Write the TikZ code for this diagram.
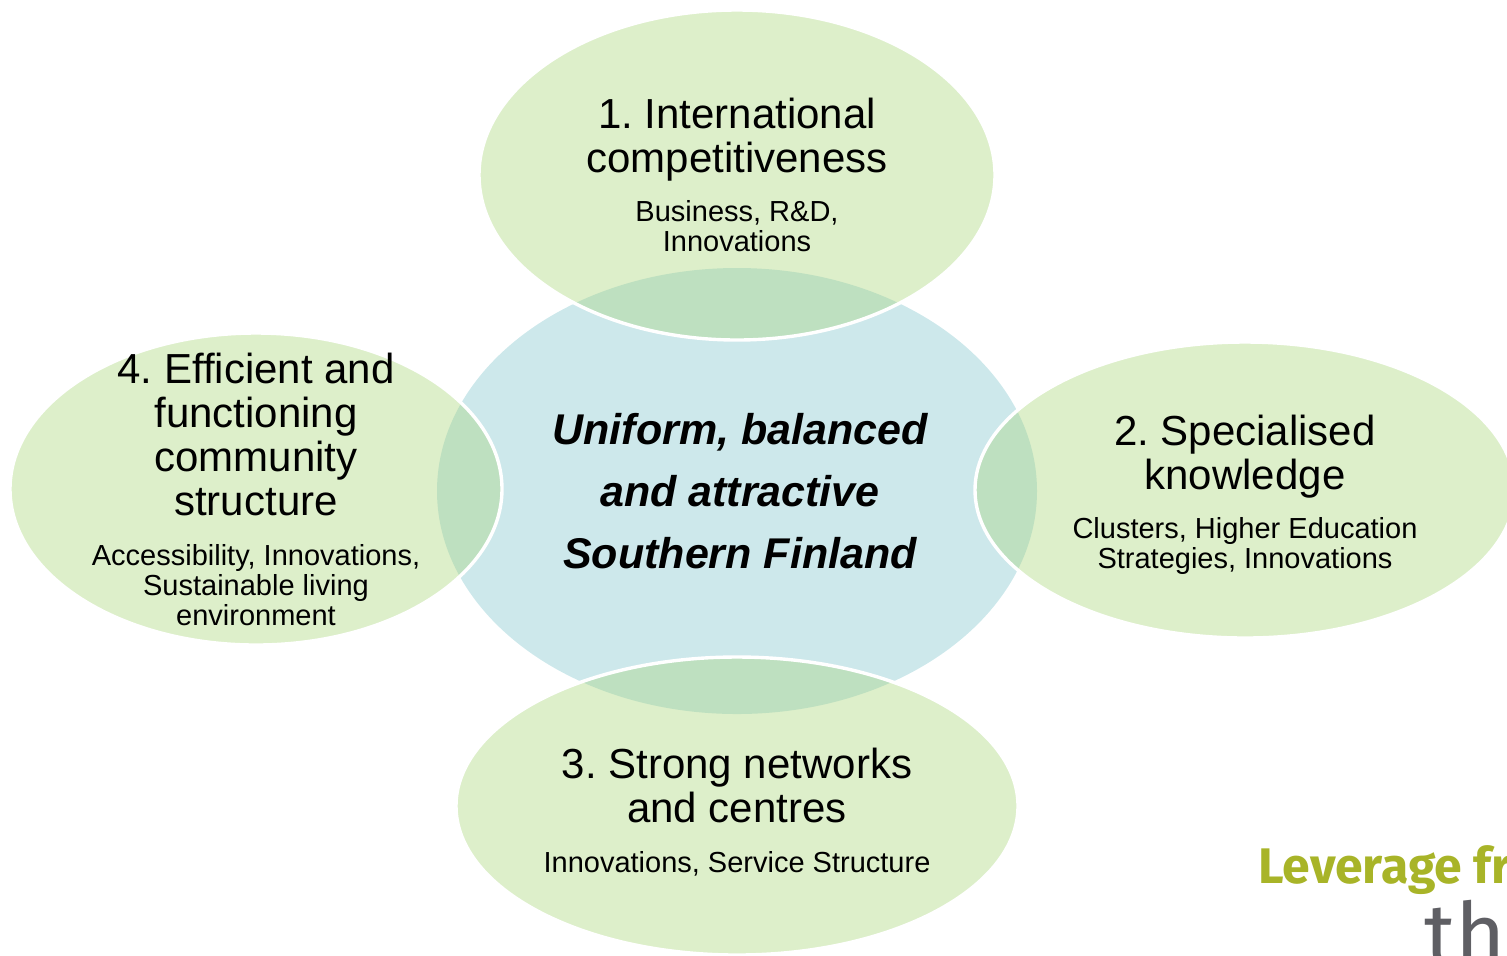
\documentclass[tikz,border=0pt]{standalone}
\usepackage{fontspec}
\setmainfont{Liberation Sans}
\newfontfamily\logofont{Fira Sans}
\definecolor{hubblue}{RGB}{205,232,235}
\definecolor{petal}{RGB}{221,239,202}
\definecolor{overlap}{RGB}{190,224,192}
\definecolor{olive}{RGB}{168,180,40}
\definecolor{logogray}{RGB}{95,95,100}
\frenchspacing
\begin{document}
\begin{tikzpicture}[x=0.5pt,y=-0.5pt,
    title/.style={anchor=base,align=center,inner sep=0pt,font=\fontsize{21}{22}\selectfont},
    sub/.style={anchor=base,align=center,inner sep=0pt,font=\fontsize{14.5}{15}\selectfont},
    hubtext/.style={anchor=base,align=center,inner sep=0pt,font=\fontsize{21.5}{31}\selectfont\bfseries\itshape},
    rim/.style={draw=white,line width=1.7pt}]
  \path[use as bounding box,clip] (0,0) rectangle (1507,955);
  % centre ellipse
  \fill[hubblue] (737,491) ellipse [x radius=150pt,y radius=111.5pt];
  % the four petals, darker where they lie on the centre
  \foreach \cx/\cy/\rx/\ry in {737/175/129pt/82.5pt, 1245/490/135pt/74pt,
                               737/806/140.5pt/74.5pt, 256/489/123pt/78pt} {
    \fill[petal] (\cx,\cy) ellipse [x radius=\rx,y radius=\ry];
    \begin{scope}
      \clip (737,491) ellipse [x radius=150pt,y radius=111.5pt];
      \fill[overlap] (\cx,\cy) ellipse [x radius=\rx,y radius=\ry];
    \end{scope}
    \draw[rim] (\cx,\cy) ellipse [x radius=\rx,y radius=\ry];
  }
  % texts (anchored at the baseline of the last line)
  \node[hubtext] (hub) at (740,568) {Uniform, balanced\\and attractive\\Southern Finland};
  \node[title] (t1) at (737,172) {1. International\\competitiveness};
  \node[sub] (s1) at (737,251) {Business, R\&D,\\Innovations};
  \node[title] (t2) at (1245,489) {2. Specialised\\knowledge};
  \node[sub] (s2) at (1245,568) {Clusters, Higher Education\\Strategies, Innovations};
  \node[title] (t3) at (737,822) {3. Strong networks\\and centres};
  \node[sub] (s3) at (737,872) {Innovations, Service Structure};
  \node[title] (t4) at (256,515) {4. Efficient and\\functioning\\community\\structure};
  \node[sub] (s4) at (256,625) {Accessibility, Innovations,\\Sustainable living\\environment};
  % logo, cut by the page edge
  \node[anchor=base west,inner sep=0pt,olive,font=\logofont\bfseries\fontsize{25}{25}\selectfont] (lev) at (1258,883) {Leverage fr};
  \node[anchor=base west,inner sep=0pt,logogray,font=\logofont\fontsize{43}{43}\selectfont] (th) at (1424,964) {th};
\end{tikzpicture}
\end{document}
